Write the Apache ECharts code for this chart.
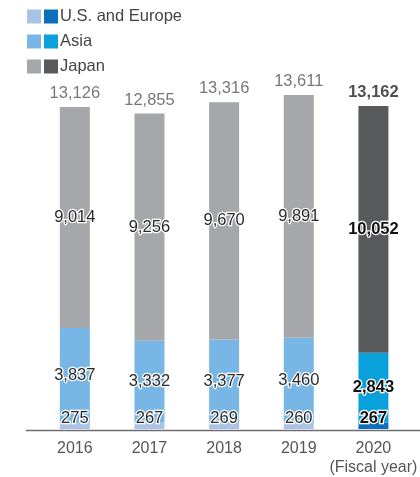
<!DOCTYPE html>
<html><head><meta charset="utf-8">
<script src="https://cdn.jsdelivr.net/npm/echarts@6/dist/echarts.min.js"></script>
<style>html,body{margin:0;padding:0;background:#fff}#c{width:420px;height:477px}</style>
</head><body><div id="c"></div>
<script>
const categories = ['2016', '2017', '2018', '2019', '2020'];
const usEurope = [275, 267, 269, 260, 267];
const asia = [3837, 3332, 3377, 3460, 2843];
const japan = [9014, 9256, 9670, 9891, 10052];
const totals = [13126, 12855, 13316, 13611, 13162];
const seriesNames = ['U.S. and Europe', 'Asia', 'Japan'];

const lightColors = ['#a9c3e7', '#78b7e5', '#a6a7aa'];
const darkColors = ['#0b6fbb', '#0aa0dc', '#58595b'];
const hi = 4;
const FONT = 'Liberation Sans';

const fmt = v => v.toLocaleString('en-US');

function mk(arr, k) {
  return arr.map((v, i) => i === hi
    ? { value: v, itemStyle: { color: darkColors[k] }, label: { fontWeight: 'bold', color: '#111' } }
    : v);
}

const innerLabel = {
  show: true,
  fontFamily: FONT,
  fontSize: 16.5,
  color: '#2a2a2a',
  textBorderColor: '#fff',
  textBorderWidth: 2.5,
  formatter: p => fmt(p.value)
};

const legendBase = {
  orient: 'vertical', top: 8, padding: 0, itemWidth: 14, itemHeight: 14, itemGap: 8,
  icon: 'rect', selectedMode: false
};

const chart = echarts.init(document.getElementById('c'));
chart.setOption({
  animation: false,
  textStyle: { fontFamily: FONT },
  grid: { left: 37.5, right: 5, top: 85.5, bottom: 47 },
  legend: [
    Object.assign({}, legendBase, {
      left: 27, z: 1,
      textStyle: { fontFamily: FONT, fontSize: 16.5, color: 'rgba(0,0,0,0)', padding: [0, 0, 0, -3] },
      data: seriesNames.map((n, k) => ({ name: n, itemStyle: { color: lightColors[k] } }))
    }),
    Object.assign({}, legendBase, {
      left: 44, z: 2,
      textStyle: { fontFamily: FONT, fontSize: 16.5, color: '#444', padding: [0, 0, 0, -3] },
      data: seriesNames.map((n, k) => ({ name: n, itemStyle: { color: darkColors[k] } }))
    })
  ],
  xAxis: {
    type: 'category', data: categories,
    axisLine: { show: false },
    axisTick: { show: false },
    axisLabel: {
      interval: 0,
      margin: 10, fontFamily: FONT, fontSize: 16, color: '#555', lineHeight: 19,
      formatter: (v, i) => i === hi ? v + '\n(Fiscal year)' : v
    }
  },
  yAxis: { type: 'value', min: 0, max: 14000, show: false, splitLine: { show: false } },
  graphic: [{
    type: 'line', shape: { x1: 26, y1: 430.5, x2: 420, y2: 430.5 },
    style: { stroke: '#6d6e71', lineWidth: 1.5 }, z: 100
  }],
  series: [
    {
      name: seriesNames[0], type: 'bar', stack: 't', barWidth: 30,
      itemStyle: { color: lightColors[0] }, data: mk(usEurope, 0),
      label: Object.assign({}, innerLabel, { position: 'insideBottom', distance: 2 })
    },
    {
      name: seriesNames[1], type: 'bar', stack: 't', barWidth: 30,
      itemStyle: { color: lightColors[1] }, data: mk(asia, 1),
      label: Object.assign({}, innerLabel, { position: 'inside' })
    },
    {
      name: seriesNames[2], type: 'bar', stack: 't', barWidth: 30,
      itemStyle: { color: lightColors[2] }, data: mk(japan, 2),
      label: Object.assign({}, innerLabel, { position: 'inside' })
    },
    {
      name: 'Total', type: 'scatter', symbolSize: 0, silent: true,
      data: totals.map((v, i) => i === hi
        ? { value: v, label: { fontWeight: 'bold', color: '#222' } }
        : v),
      label: {
        show: true, position: 'top', distance: 5, fontFamily: FONT, fontSize: 16.5, color: '#555',
        formatter: p => fmt(p.value)
      }
    }
  ]
});
</script></body></html>
